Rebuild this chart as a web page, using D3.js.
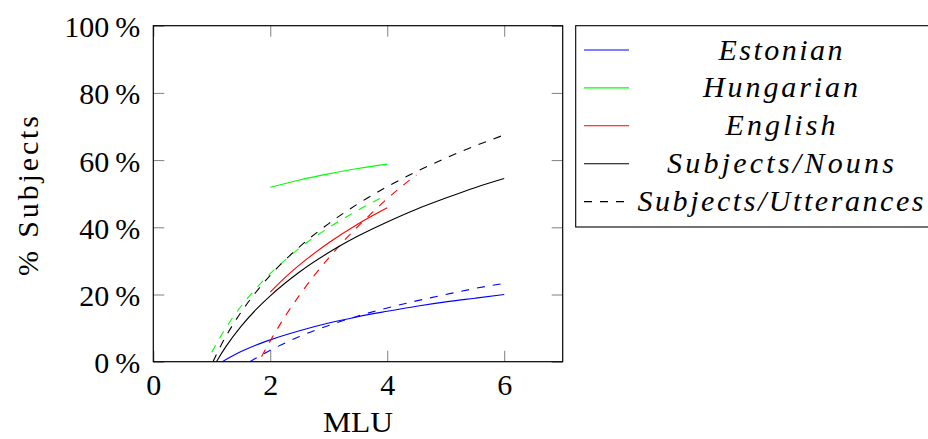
<!DOCTYPE html>
<html>
<head>
<meta charset="utf-8">
<script src="https://cdn.jsdelivr.net/npm/d3@7"></script>
<style>
  html, body { margin: 0; padding: 0; background: #fff; }
  svg { display: block; }
</style>
</head>
<body>
<svg id="chart" width="928" height="439"></svg>
<script>
// MLU (x) vs. percentage of subjects (y), one [mlu, percent] pair per point
const estonianNouns = [[1.18, 0], [1.25, 0.7], [1.5, 3.0], [1.75, 4.9], [2, 6.5], [2.5, 9.2], [3, 11.5], [3.5, 13.4], [4, 15.0], [4.5, 16.5], [5, 17.8], [5.5, 18.9], [6, 20.0]];
const estonianUtterances = [[1.65, 0], [1.75, 1.0], [2, 3.4], [2.5, 7.5], [3, 10.8], [3.5, 13.6], [4, 16.0], [4.5, 18.1], [5, 20.0], [5.5, 21.8], [6, 23.3]];
const hungarianNouns = [[2, 51.9], [2.5, 54.1], [3, 55.9], [3.5, 57.5], [4, 58.8]];
const hungarianUtterances = [[1.0, 2.8], [1.1, 6.0], [1.25, 10.3], [1.5, 16.5], [1.75, 21.7], [2, 26.2], [2.5, 33.8], [3, 39.9], [3.5, 45.1], [4, 49.7]];
const englishNouns = [[2, 20.7], [2.25, 25.0], [2.5, 28.8], [3, 35.4], [3.5, 41.0], [4, 45.8]];
const englishUtterances = [[1.85, 1.5], [2, 6.2], [2.25, 13.4], [2.5, 19.8], [2.75, 25.6], [3, 30.9], [3.25, 35.8], [3.5, 40.3], [3.75, 44.5], [4, 48.5], [4.25, 52.2], [4.5, 55.6]];
const allNouns = [[1.08, 0], [1.1, 0.6], [1.25, 4.7], [1.5, 10.5], [1.75, 15.4], [2, 19.6], [2.5, 26.7], [3, 32.5], [3.5, 37.4], [4, 41.6], [4.5, 45.4], [5, 48.7], [5.5, 51.8], [6, 54.5]];
const allUtterances = [[1.02, 0], [1.1, 2.9], [1.25, 7.8], [1.5, 14.7], [1.75, 20.6], [2, 25.7], [2.5, 34.2], [3, 41.1], [3.5, 47.0], [4, 52.1], [4.5, 56.6], [5, 60.6], [5.5, 64.2], [6, 67.5]];

const xTicks = [0, 2, 4, 6];
const yTicks = [0, 20, 40, 60, 80, 100];
const xDomain = [0, 7];
const yDomain = [0, 100];

const legendLabels = ["Estonian", "Hungarian", "English", "Subjects/Nouns", "Subjects/Utterances"];
const legendColors = ["#0000ff", "#00ff00", "#ff0000", "#000000", "#000000"];
const legendDashed = [false, false, false, false, true];

const series = [
  { data: estonianNouns, color: "#0000ff", dashed: false },
  { data: estonianUtterances, color: "#0000ff", dashed: true },
  { data: hungarianNouns, color: "#00ff00", dashed: false },
  { data: hungarianUtterances, color: "#00ff00", dashed: true },
  { data: englishNouns, color: "#ff0000", dashed: false },
  { data: englishUtterances, color: "#ff0000", dashed: true },
  { data: allNouns, color: "#000000", dashed: false },
  { data: allUtterances, color: "#000000", dashed: true }
];

const plot = { left: 153.3, right: 562.7, top: 25.7, bottom: 361.7 };
const tickLen = 11;
const dash = "8,8";
const fontSize = 30;
const serif = "'Liberation Serif'";

const svg = d3.select("#chart");

const x = d3.scaleLinear().domain(xDomain).range([plot.left, plot.right]);
const y = d3.scaleLinear().domain(yDomain).range([plot.bottom, plot.top]);

// Clip the curves to the plotting area
svg.append("defs").append("clipPath").attr("id", "plotClip")
  .append("rect")
  .attr("x", plot.left).attr("y", plot.top)
  .attr("width", plot.right - plot.left).attr("height", plot.bottom - plot.top);

// Inward ticks on all four sides
function styleAxis(g, withLabels) {
  g.attr("font-family", null).attr("font-size", null);
  g.select(".domain").remove();
  g.selectAll(".tick line").attr("stroke", "#808080").attr("stroke-width", 1);
  if (!withLabels) g.selectAll(".tick text").remove();
}

const bottomAxis = svg.append("g")
  .attr("transform", `translate(0,${plot.bottom})`)
  .call(d3.axisBottom(x).tickValues(xTicks).tickSize(-tickLen).tickFormat(d3.format("d")));
styleAxis(bottomAxis, true);
bottomAxis.selectAll(".tick text")
  .attr("y", 33).attr("dy", null)
  .style("font-family", serif)
  .style("font-size", fontSize + "px")
  .attr("fill", "#000");

svg.append("g")
  .attr("transform", `translate(0,${plot.top})`)
  .call(d3.axisTop(x).tickValues(xTicks).tickSize(-tickLen))
  .call(g => styleAxis(g, false));

const leftAxis = svg.append("g")
  .attr("transform", `translate(${plot.left},0)`)
  .call(d3.axisLeft(y).tickValues(yTicks).tickSize(-tickLen).tickFormat(d => d + "\u2009%"));
styleAxis(leftAxis, true);
leftAxis.selectAll(".tick text")
  .attr("x", -13).attr("dy", null).attr("y", 11)
  .attr("text-anchor", "end")
  .style("font-family", serif)
  .style("font-size", fontSize + "px")
  .attr("fill", "#000");

svg.append("g")
  .attr("transform", `translate(${plot.right},0)`)
  .call(d3.axisRight(y).tickValues(yTicks).tickSize(-tickLen))
  .call(g => styleAxis(g, false));

// Curves
const line = d3.line()
  .x(d => x(d[0]))
  .y(d => y(d[1]))
  .curve(d3.curveMonotoneX);

svg.append("g").attr("clip-path", "url(#plotClip)")
  .selectAll("path")
  .data(series)
  .join("path")
  .attr("d", d => line(d.data))
  .attr("fill", "none")
  .attr("stroke", d => d.color)
  .attr("stroke-width", 1.1)
  .attr("stroke-dasharray", d => d.dashed ? dash : null);

// Axis frame
svg.append("rect")
  .attr("x", plot.left).attr("y", plot.top)
  .attr("width", plot.right - plot.left).attr("height", plot.bottom - plot.top)
  .attr("fill", "none").attr("stroke", "#000").attr("stroke-width", 1.2);

// Axis titles
svg.append("text")
  .attr("x", (plot.left + plot.right) / 2).attr("y", 432)
  .attr("text-anchor", "middle")
  .attr("fill", "#000")
  .style("font-family", serif)
  .style("font-size", fontSize + "px")
  .attr("textLength", 70).attr("lengthAdjust", "spacingAndGlyphs")
  .text("MLU");

svg.append("text")
  .attr("transform", "translate(38,196) rotate(-90)")
  .attr("text-anchor", "middle")
  .attr("fill", "#000")
  .style("font-family", serif)
  .style("font-size", fontSize + "px")
  .attr("textLength", 160).attr("lengthAdjust", "spacing")
  .text("% Subjects");

// Legend
const legend = { left: 575.7, top: 25.7, bottom: 227, rowY0: 50, rowStep: 37.9, lineX0: 584, lineX1: 629, textX: 780.5 };
const legendWidths = [124, 155, 110, 227, 286];

svg.append("rect")
  .attr("x", legend.left).attr("y", legend.top)
  .attr("width", 940 - legend.left).attr("height", legend.bottom - legend.top)
  .attr("fill", "#fff").attr("stroke", "#000").attr("stroke-width", 1.1);

const rows = svg.append("g").selectAll("g")
  .data(legendLabels)
  .join("g")
  .attr("transform", (d, i) => `translate(0,${legend.rowY0 + i * legend.rowStep})`);

rows.append("line")
  .attr("x1", legend.lineX0).attr("x2", legend.lineX1)
  .attr("y1", 0).attr("y2", 0)
  .attr("stroke", (d, i) => legendColors[i])
  .attr("stroke-width", 1.1)
  .attr("stroke-dasharray", (d, i) => legendDashed[i] ? dash : null);

rows.append("text")
  .attr("x", legend.textX).attr("y", 9.5)
  .attr("text-anchor", "middle")
  .attr("fill", "#000")
  .style("font-family", serif)
  .style("font-size", fontSize + "px")
  .style("font-style", "italic")
  .attr("textLength", (d, i) => legendWidths[i])
  .attr("lengthAdjust", "spacing")
  .text(d => d);
</script>
</body>
</html>
